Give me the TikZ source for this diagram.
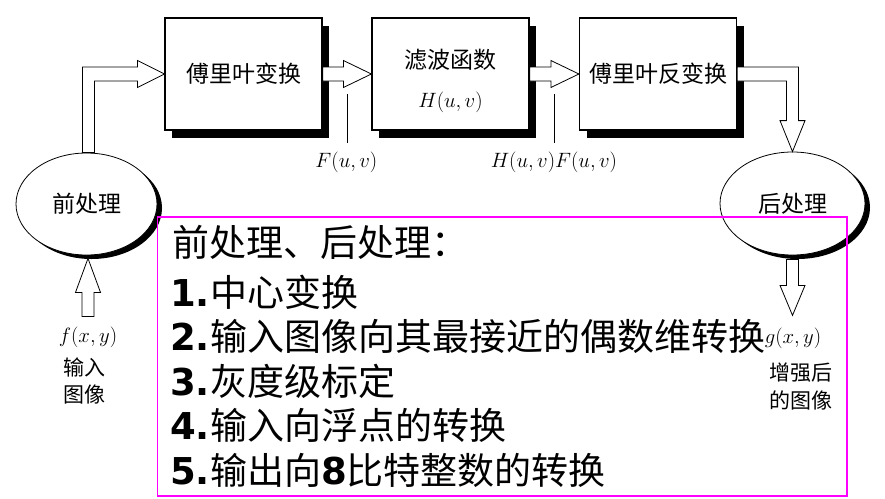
\documentclass[tikz,border=0pt]{standalone}
\usepackage{fontspec}
\newfontfamily\cjk{Noto Sans CJK SC}
\newfontfamily\numfont{DejaVu Sans}
\usetikzlibrary{calc,positioning,shadows,shapes.geometric}

\begin{document}
\begin{tikzpicture}[x=1pt,y=1pt,
  box/.style={draw,line width=1.2pt,fill=white,inner sep=0pt,
    minimum width=157pt,minimum height=112pt,
    drop shadow={shadow xshift=7pt,shadow yshift=-8pt,fill=black,opacity=1}},
  blob/.style={draw,ellipse,line width=.8pt,fill=white,inner sep=0pt,
    drop shadow={shadow xshift=5pt,shadow yshift=-4pt,fill=black,opacity=1}},
  hollow/.style={draw,fill=white,line width=.8pt},
  cjklbl/.style={font=\cjk\fontsize{23}{27}\selectfont},
  small/.style={font=\cjk\fontsize{21}{27}\selectfont,align=center,inner sep=0pt},
  mathlbl/.style={font=\fontsize{20.74}{25}\selectfont,inner sep=0pt},
  listline/.style={anchor=base west,inner sep=0pt,
    font=\cjk\fontsize{37}{45}\selectfont}]
  \def\bnum#1{{\numfont\bfseries #1}}
  \definecolor{frame}{RGB}{255,0,255}

  \useasboundingbox (0,0) rectangle (885,-498);

  % the three processing boxes
  \node [box,cjklbl] (ft) at (243.5,-74) {傅里叶变换};
  \node [box] (filt) at (450.5,-74) {};
  \node [box,cjklbl] (ift) at (658,-74) {傅里叶反变换};
  \node [cjklbl] (filtTxt) at ($(filt.center)+(0,14)$) {滤波函数};
  \node [mathlbl] (filtH) at ($(filt.center)+(0,-28)$) {$H(u,v)$};

  % pre- and post-processing
  \node [blob,cjklbl,minimum width=141pt,minimum height=102pt] (pre)
    at (86.5,-204) {前处理};
  \node [blob,cjklbl,minimum width=145pt,minimum height=103pt] (post)
    at (792.5,-203.5) {后处理};

  % hollow arrows between the boxes
  \foreach \a/\b in {ft/filt,filt/ift}
    \draw [hollow] ($(\a.east)+(0,7)$) -- ($(\b.west)+(-28,7)$) -- ++(0,6.5)
      -- (\b.west) -- ++(-28,-13.5) -- ++(0,6.5) -- ($(\a.east)+(0,-7)$) -- cycle;

  % up from the pre-processing, then right into the first box
  \draw [hollow] ($(pre.north)+(-4,0)$) |- ($(ft.west)+(-27,7)$) -- ++(0,6.5)
    -- (ft.west) -- ++(-27,-13.5) -- ++(0,6.5) -| ($(pre.north)+(8,0)$) -- cycle;

  % right out of the last box, then down into the post-processing
  \draw [hollow] ($(ift.east)+(0,7)$) -| ($(post.north)+(6,31)$) -- ++(6.5,0)
    -- (post.north) -- ++(-12.5,31) -- ++(6.5,0) |- ($(ift.east)+(0,-7)$) -- cycle;

  % input and output images
  \coordinate (inTip) at ($(pre.south)+(1.5,-3)$);
  \draw [hollow] (inTip) -- ++(12.5,-34) -- ++(-6.5,0) -- ++(0,-24)
    -- ++(-12,0) -- ++(0,24) -- ++(-6.5,0) -- cycle;
  \draw [hollow] ($(post.south)+(-6,-4)$) -- ++(0,-26) -- ++(-6.5,0)
    -- ++(12.5,-30) -- ++(12.5,30) -- ++(-6.5,0) -- ++(0,26) -- cycle;
  \node [mathlbl] (fxy) at (88,-337) {$f(x,y)$};
  \node [small] (inImg) at (84,-381) {输入\\图像};
  \node [mathlbl] (gxy) at (793,-338) {$g(x,y)$};
  \node [small,font=\cjk\fontsize{21}{28}\selectfont] (outImg)
    at (801,-386) {增强后\\的图像};

  % spectra between the boxes
  \coordinate (tickF) at ($(filt.west)+(-24,-20)$);
  \coordinate (tickHF) at ($(ift.west)+(-25,-20)$);
  \node [mathlbl] (lblF) at ($(tickF)+(-1,-68)$) {$F(u,v)$};
  \node [mathlbl] (lblHF) at ($(tickHF)+(0,-68)$) {$H(u,v)F(u,v)$};
  \draw [line width=.8pt,shorten >=8.5pt] (tickF) -- (tickF |- lblF.north);
  \draw [line width=.8pt,shorten >=8.5pt] (tickHF) -- (tickHF |- lblHF.north);

  % notes on the processing steps
  \draw [frame,line width=1.4pt] (157.5,-217) rectangle (847,-496);
  \node [listline] (title) at (172,-256) {前处理、后处理：};
  \foreach \txt [count=\i] in {\bnum{1.}中心变换,
      \bnum{2.}输入图像向其最接近的偶数维转换,
      \bnum{3.}灰度级标定,
      \bnum{4.}输入向浮点的转换,
      \bnum{5.}输出向\bnum{8}比特整数的转换}
    \node [listline] (step\i) at (170,{-306-44.5*(\i-1)}) {\txt};
\end{tikzpicture}
\end{document}
